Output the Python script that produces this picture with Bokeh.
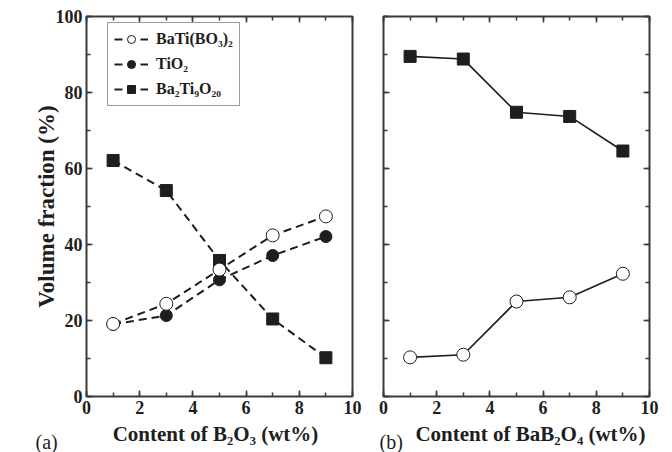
from bokeh.plotting import figure
from bokeh.layouts import row, column
from bokeh.models import (LinearAxis, SingleIntervalTicker, Legend,
                          LegendItem, Range1d)
from bokeh.core.properties import value
from bokeh.embed import file_html
from bokeh.resources import INLINE

# ---------------- data ----------------
content = [1, 3, 5, 7, 9]
a_batibo3 = [19.1, 24.4, 33.4, 42.4, 47.4]
a_tio2 = [19.0, 21.3, 30.7, 37.1, 42.1]
a_ba2ti9o20 = [62.1, 54.2, 35.8, 20.4, 10.2]
b_ba2ti9o20 = [89.5, 88.8, 74.8, 73.7, 64.6]
b_batibo3 = [10.3, 11.0, 25.0, 26.1, 32.3]

labels = ["BaTi(BO₃)₂", "TiO₂", "Ba₂Ti₉O₂₀"]
xlabels = ["Content of B₂O₃ (wt%)", "Content of BaB₂O₄ (wt%)"]
panel_tags = ["(a)", "(b)"]
ylabel = "Volume fraction (%)"

FONT = "Liberation Serif"
INK = "#1e1e1e"
FRAME = "#3a3a3a"


def xticker():
    return SingleIntervalTicker(interval=2, num_minor_ticks=2)


def yticker():
    return SingleIntervalTicker(interval=20, num_minor_ticks=2)


def style_axis(ax, show_labels):
    ax.axis_line_color = None
    ax.major_tick_in = 6
    ax.major_tick_out = 0
    ax.minor_tick_in = 4
    ax.minor_tick_out = 0
    ax.major_tick_line_color = FRAME
    ax.minor_tick_line_color = FRAME
    ax.major_tick_line_width = 1.5
    ax.minor_tick_line_width = 1.5
    ax.axis_label_text_font = FONT
    ax.axis_label_text_font_style = "bold"
    ax.axis_label_text_font_size = "23px"
    ax.axis_label_text_color = INK
    if show_labels:
        ax.major_label_text_font = FONT
        ax.major_label_text_font_style = "bold"
        ax.major_label_text_font_size = "18px"
        ax.major_label_text_color = INK
        ax.major_label_standoff = 4
    else:
        ax.major_label_text_font_size = "0px"
        ax.major_label_text_color = None
        ax.major_label_standoff = 0


def make_fig(width, bl, br, left_labels, right_ticks):
    p = figure(width=width, height=420, output_backend="svg",
               toolbar_location=None,
               x_range=Range1d(0, 10), y_range=Range1d(0, 100),
               x_axis_location=None, y_axis_location=None,
               min_border_left=bl, min_border_right=br,
               min_border_top=16, min_border_bottom=24)
    p.xgrid.visible = False
    p.ygrid.visible = False
    p.outline_line_color = FRAME
    p.outline_line_width = 2
    p.background_fill_color = "white"
    p.border_fill_color = "white"

    bottom = LinearAxis(ticker=xticker())
    style_axis(bottom, True)
    p.add_layout(bottom, "below")
    left = LinearAxis(ticker=yticker())
    style_axis(left, left_labels)
    p.add_layout(left, "left")
    top = LinearAxis(ticker=xticker())
    style_axis(top, False)
    p.add_layout(top, "above")
    if right_ticks:
        right = LinearAxis(ticker=yticker())
        style_axis(right, False)
        p.add_layout(right, "right")
    return p, bottom, left


# ---------------- panel (a) ----------------
pa, pa_bottom, pa_left = make_fig(368, 86, 16, True, False)
pa_left.axis_label = ylabel
pa_left.axis_label_standoff = -6

DASH = "8 5"
l3 = pa.line(content, a_ba2ti9o20, line_color=INK, line_width=2, line_dash=DASH)
s3 = pa.scatter(content, a_ba2ti9o20, marker="square", size=12,
                fill_color=INK, line_color=INK)
l2 = pa.line(content, a_tio2, line_color=INK, line_width=2, line_dash=DASH)
s2 = pa.scatter(content, a_tio2, marker="circle", size=12,
                fill_color=INK, line_color=INK)
l1 = pa.line(content, a_batibo3, line_color=INK, line_width=2, line_dash=DASH)
s1 = pa.scatter(content, a_batibo3, marker="circle", size=13,
                fill_color="white", line_color=INK, line_width=1)

legend = Legend(items=[
    LegendItem(label=labels[0], renderers=[l1, s1]),
    LegendItem(label=labels[1], renderers=[l2, s2]),
    LegendItem(label=labels[2], renderers=[l3, s3]),
], location=(21, 290))
legend.label_text_font = FONT
legend.label_text_font_style = "bold"
legend.label_text_font_size = "16px"
legend.label_text_color = INK
legend.glyph_width = 34
legend.glyph_height = 20
legend.label_height = 20
legend.spacing = 5
legend.padding = 6
legend.margin = 0
legend.label_standoff = 8
legend.border_line_color = FRAME
legend.border_line_width = 1.2
legend.background_fill_color = "white"
pa.add_layout(legend, "center")

# ---------------- panel (b) ----------------
pb, pb_bottom, pb_left = make_fig(304, 15, 23, False, True)

pb.line(content, b_ba2ti9o20, line_color=INK, line_width=1.6)
pb.scatter(content, b_ba2ti9o20, marker="square", size=12,
           fill_color=INK, line_color=INK)
pb.line(content, b_batibo3, line_color=INK, line_width=1.6)
pb.scatter(content, b_batibo3, marker="circle", size=13,
           fill_color="white", line_color=INK, line_width=1)

# ---------------- bottom strip: x-axis titles and panel tags ----------------
strip = figure(width=672, height=32, output_backend="svg",
               toolbar_location=None,
               x_range=Range1d(0, 672), y_range=Range1d(0, 32),
               x_axis_location=None, y_axis_location=None,
               min_border=0)
strip.xgrid.visible = False
strip.ygrid.visible = False
strip.outline_line_color = None
strip.border_fill_color = "white"
strip.background_fill_color = "white"

strip.text(x=[215, 530], y=[19, 19], text=xlabels,
           text_font=value(FONT), text_font_style="bold",
           text_font_size="21px", text_color=INK,
           text_align="center", text_baseline="middle")
strip.text(x=[35, 379], y=[11, 11], text=panel_tags,
           text_font=value(FONT), text_font_size="20px", text_color=INK,
           text_align="left", text_baseline="middle")

layout = column(row(pa, pb), strip)
open("out.html", "w").write(file_html(layout, INLINE))
